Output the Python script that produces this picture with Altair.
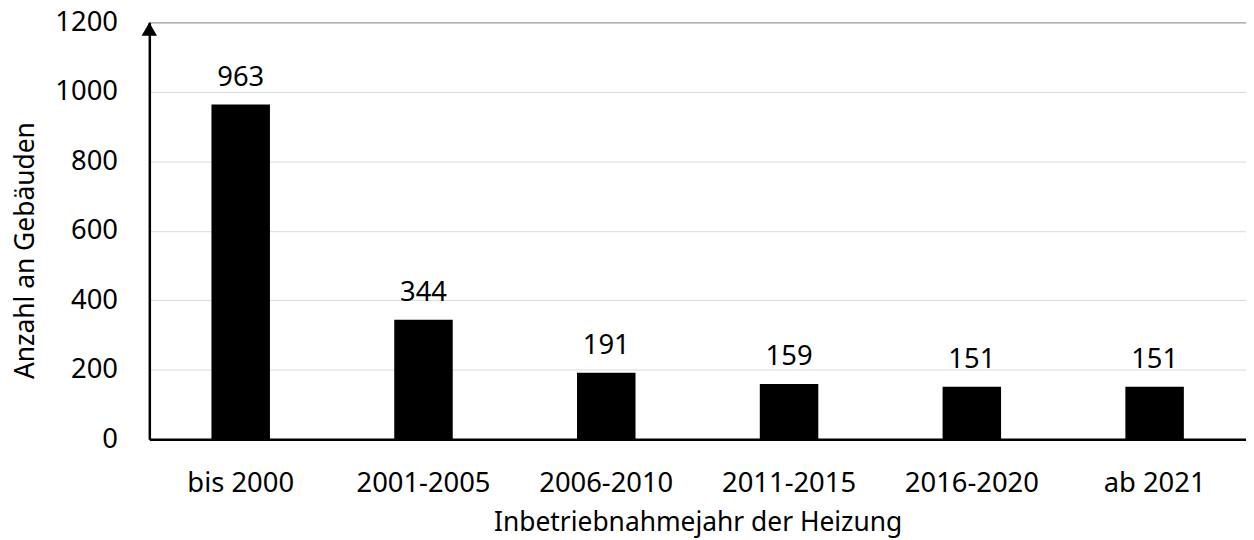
import altair as alt
import pandas as pd

categories = ["bis 2000", "2001-2005", "2006-2010", "2011-2015", "2016-2020", "ab 2021"]
counts = [963, 344, 191, 159, 151, 151]
y_ticks = [0, 200, 400, 600, 800, 1000, 1200]

df = pd.DataFrame({"Zeitraum": categories, "Anzahl": counts})

FONT = "Noto Sans"
FS_LABEL = 27.5
FS_TITLE = 26.5

x_enc = alt.X(
    "Zeitraum:N",
    sort=categories,
    scale=alt.Scale(paddingInner=0.68, paddingOuter=0.34),
    axis=alt.Axis(
        title="Inbetriebnahmejahr der Heizung",
        labelAngle=0,
        ticks=False,
        tickSize=0,
        labelPadding=53,
        labelBaseline="alphabetic",
        domainColor="black",
        domainWidth=2.5,
        titleBaseline="alphabetic",
        titleY=92,
        grid=False,
    ),
)
y_enc = alt.Y(
    "Anzahl:Q",
    scale=alt.Scale(domain=[0, 1200], nice=False),
    axis=alt.Axis(
        title="Anzahl an Gebäuden",
        values=y_ticks,
        format="d",
        ticks=False,
        tickSize=0,
        labelPadding=32,
        domainColor="black",
        domainWidth=2.5,
        grid=True,
        gridColor="#d9d9d9",
        gridWidth=1,
        titleX=-116,
        titleY=229,
        titleAngle=270,
        titleAlign="center",
        titleBaseline="alphabetic",
    ),
)

base = alt.Chart(df)
bars = base.mark_bar(color="black").encode(x=x_enc, y=y_enc)
labels = base.mark_text(
    dy=-19, baseline="alphabetic", fontSize=FS_LABEL, font=FONT, color="black"
).encode(x=alt.X("Zeitraum:N", sort=categories), y="Anzahl:Q", text="Anzahl:Q")

arrow = alt.Chart(pd.DataFrame({"a": [0]})).mark_point(
    shape="triangle-up", filled=True, size=240, color="black", opacity=1
).encode(x=alt.value(0), y=alt.value(7))

chart = (
    alt.layer(bars, labels, arrow)
    .properties(
        width=1102,
        height=419,
        autosize=alt.AutoSizeParams(type="none"),
        padding={"left": 142, "top": 13, "right": 0, "bottom": 100},
    )
    .configure_view(stroke="black", strokeWidth=1)
    .configure_axis(
        labelFont=FONT,
        titleFont=FONT,
        labelFontSize=FS_LABEL,
        titleFontSize=FS_TITLE,
        labelColor="black",
        titleColor="black",
        titleFontWeight="normal",
    )
)

chart.save("out.html", embed_options={"renderer": "svg", "actions": False})
